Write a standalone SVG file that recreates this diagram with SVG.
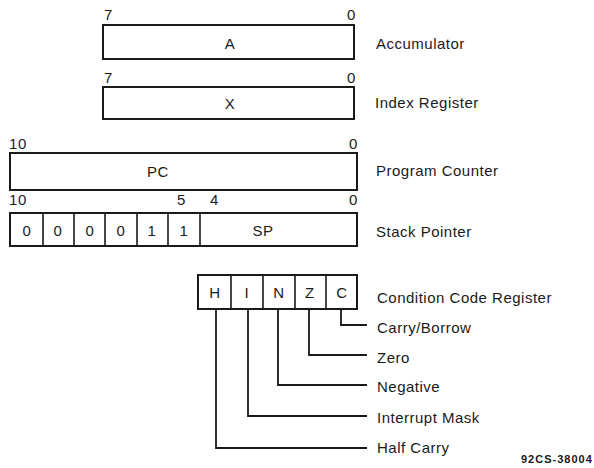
<svg xmlns="http://www.w3.org/2000/svg" width="594" height="468" viewBox="0 0 594 468">
<style>
.box{fill:#fff;stroke:#1a1a1a;stroke-width:2}
.div{stroke:#1a1a1a;stroke-width:1.6}
.ld{fill:none;stroke:#1a1a1a;stroke-width:1.8}
text{font-family:"Liberation Sans",Arial,sans-serif;fill:#1a1a1a}
.t{font-size:15px;letter-spacing:0.6px}
.c{text-anchor:middle}
.e{text-anchor:end}
.lb{font-size:15px;letter-spacing:0.5px}
.code{font-size:11px;font-weight:bold;letter-spacing:1px}
</style>
<rect width="594" height="468" fill="#fff"/>

<g id="acc">
<rect class="box" x="103" y="25" width="251" height="34"/>
<text class="t" x="104" y="20">7</text>
<text class="t e" x="356" y="20">0</text>
<text class="t c" x="230" y="49">A</text>
<text class="lb" x="376" y="49">Accumulator</text>
</g>

<g id="idx">
<rect class="box" x="103" y="87" width="251" height="32"/>
<text class="t" x="104" y="83">7</text>
<text class="t e" x="356" y="83">0</text>
<text class="t c" x="230" y="109">X</text>
<text class="lb" x="375" y="108">Index Register</text>
</g>

<g id="pc">
<rect class="box" x="10" y="153" width="347" height="37"/>
<text class="t" x="9" y="149">10</text>
<text class="t e" x="358" y="149">0</text>
<text class="t c" x="158" y="177">PC</text>
<text class="lb" x="376" y="176">Program Counter</text>
</g>

<g id="sp">
<rect class="box" x="10" y="213" width="347" height="33"/>
<line class="div" x1="43" y1="213" x2="43" y2="246"/>
<line class="div" x1="74" y1="213" x2="74" y2="246"/>
<line class="div" x1="105" y1="213" x2="105" y2="246"/>
<line class="div" x1="137" y1="213" x2="137" y2="246"/>
<line class="div" x1="168" y1="213" x2="168" y2="246"/>
<line class="div" x1="200" y1="213" x2="200" y2="246"/>
<text class="t" x="9" y="205">10</text>
<text class="t" x="177" y="205">5</text>
<text class="t" x="210" y="205">4</text>
<text class="t e" x="358" y="205">0</text>
<text class="t c" x="27" y="236">0</text>
<text class="t c" x="58" y="236">0</text>
<text class="t c" x="90" y="236">0</text>
<text class="t c" x="121" y="236">0</text>
<text class="t c" x="152" y="236">1</text>
<text class="t c" x="184" y="236">1</text>
<text class="t c" x="263" y="236">SP</text>
<text class="lb" x="376" y="237">Stack Pointer</text>
</g>

<g id="ccr">
<rect class="box" x="198" y="275" width="159" height="34"/>
<line class="div" x1="231" y1="275" x2="231" y2="309"/>
<line class="div" x1="263" y1="275" x2="263" y2="309"/>
<line class="div" x1="295" y1="275" x2="295" y2="309"/>
<line class="div" x1="326" y1="275" x2="326" y2="309"/>
<text class="t c" x="215" y="298">H</text>
<text class="t c" x="247" y="298">I</text>
<text class="t c" x="279" y="298">N</text>
<text class="t c" x="310" y="298">Z</text>
<text class="t c" x="342" y="298">C</text>
<text class="lb" x="377" y="303">Condition Code Register</text>
</g>

<g id="connectors">
<polyline class="ld" points="341,309 341,325 367,325"/>
<polyline class="ld" points="309,309 309,355 367,355"/>
<polyline class="ld" points="278,309 278,385 367,385"/>
<polyline class="ld" points="248,309 248,416 367,416"/>
<polyline class="ld" points="216,309 216,448 367,448"/>
</g>

<g id="flags">
<text class="lb" x="377" y="333">Carry/Borrow</text>
<text class="lb" x="377" y="363">Zero</text>
<text class="lb" x="377" y="392">Negative</text>
<text class="lb" x="377" y="423">Interrupt Mask</text>
<text class="lb" x="377" y="453">Half Carry</text>
</g>

<text class="code" x="521" y="463">92CS-38004</text>
</svg>
